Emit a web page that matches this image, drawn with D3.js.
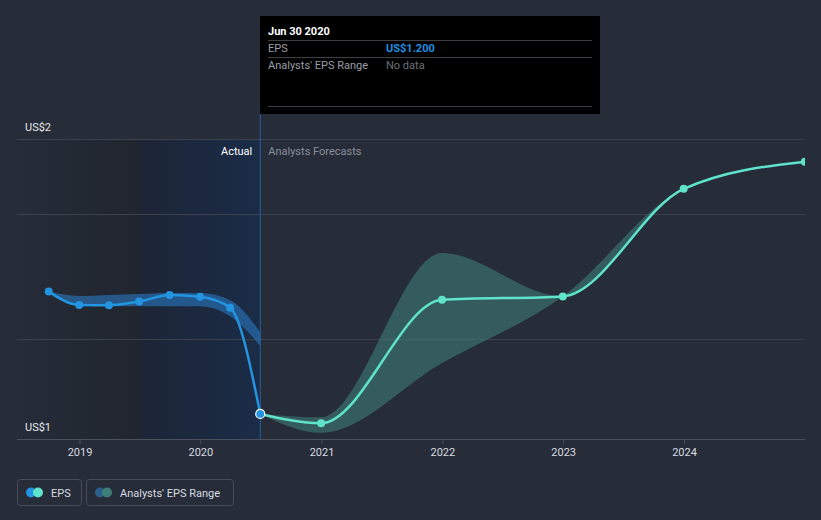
<!DOCTYPE html>
<html>
<head>
<meta charset="utf-8">
<script src="https://cdn.jsdelivr.net/npm/d3@7"></script>
<style>
  html, body { margin: 0; padding: 0; background: #262c38; }
  svg { display: block; font-family: Roboto, "Noto Sans", sans-serif; }
</style>
</head>
<body>
<svg id="chart" width="821" height="520"></svg>
<script>
// ---------- data ----------
const actualDates = ["2018-09-30","2018-12-31","2019-03-31","2019-06-30","2019-09-30","2019-12-31","2020-03-31","2020-06-30"];
const actualEPS   = [1.556, 1.517, 1.516, 1.527, 1.546, 1.541, 1.509, 1.200];
const actualLow   = [1.556, 1.514, 1.514, 1.513, 1.513, 1.513, 1.484, 1.398];
const actualHigh  = [1.556, 1.543, 1.546, 1.549, 1.552, 1.552, 1.531, 1.438];

const forecastDates = ["2020-06-30","2020-12-31","2021-12-31","2022-12-31","2023-12-31","2024-12-31"];
const forecastEPS   = [1.200, 1.173, 1.532, 1.542, 1.855, 1.934];
const rangeDates    = ["2020-06-30","2020-12-31","2021-12-31","2022-12-31","2023-12-31","2024-12-31"];
const rangeLow      = [1.200, 1.145, 1.348, 1.542, 1.855, 1.934];
const rangeHigh     = [1.200, 1.190, 1.668, 1.542, 1.855, 1.934];

const xTickYears   = [2019, 2020, 2021, 2022, 2023, 2024];
const yGridValues  = [1.418, 1.782, 2.0];
const yTickLabels  = [{v: 2.0, t: "US$2"}, {v: 1.127, t: "US$1"}];
const yDomain      = [1.127, 2.0];

const todayDate    = "2020-06-30";
const pastShadeStart = "2019-06-30";

// ---------- setup ----------
const parse = d3.utcParse("%Y-%m-%d");
const svg = d3.select("#chart");
const W = 821, H = 520;
const pLeft = 17, pRight = 805, pTop = 139, pBottom = 439;

const x = d3.scaleUtc()
  .domain([new Date(Date.UTC(2019,0,1)), new Date(Date.UTC(2024,0,1))])
  .range([79.5, 684]);
const y = d3.scaleLinear().domain(yDomain).range([pBottom, pTop]);

svg.append("rect").attr("width", W).attr("height", H).attr("fill", "#262c38");

const defs = svg.append("defs");
defs.append("clipPath").attr("id", "clip").append("rect")
  .attr("x", pLeft).attr("y", 0).attr("width", pRight - pLeft).attr("height", pBottom + 1);
const g1 = defs.append("linearGradient").attr("id", "gradPast").attr("x1", 0).attr("x2", 1);
g1.append("stop").attr("offset", 0).attr("stop-color", "#262c38");
g1.append("stop").attr("offset", 1).attr("stop-color", "#20252e");
const g2 = defs.append("linearGradient").attr("id", "gradRecent").attr("x1", 0).attr("x2", 1);
g2.append("stop").attr("offset", 0).attr("stop-color", "#1d2536");
g2.append("stop").attr("offset", 1).attr("stop-color", "#1a2c47");

const xToday = x(parse(todayDate));
const xShade = x(parse(pastShadeStart));

// shaded past regions
svg.append("rect").attr("x", pLeft).attr("y", pTop).attr("width", xShade - pLeft).attr("height", pBottom - pTop)
  .attr("fill", "url(#gradPast)");
svg.append("rect").attr("x", xShade).attr("y", pTop).attr("width", xToday - xShade).attr("height", pBottom - pTop)
  .attr("fill", "url(#gradRecent)");

// gridlines
svg.selectAll("line.grid").data(yGridValues).join("line")
  .attr("x1", pLeft).attr("x2", pRight)
  .attr("y1", d => Math.round(y(d)) + 0.5).attr("y2", d => Math.round(y(d)) + 0.5)
  .attr("stroke", "#3b414d").attr("stroke-width", 1);

// x axis
const xAxis = d3.axisBottom(x)
  .tickValues(xTickYears.map(yr => new Date(Date.UTC(yr,0,1))))
  .tickFormat(d3.utcFormat("%Y"))
  .tickSize(5).tickPadding(4);
const ax = svg.append("g").attr("transform", `translate(0,${pBottom})`).call(xAxis);
ax.select(".domain").remove();
ax.selectAll(".tick line").attr("stroke", "#4a505c");
ax.selectAll(".tick text").attr("fill", "#d8dbe0").attr("font-size", 11).attr("font-family", "Roboto, sans-serif");
svg.append("line").attr("x1", pLeft).attr("x2", pRight).attr("y1", pBottom + 0.5).attr("y2", pBottom + 0.5)
  .attr("stroke", "#4a505c");

// y labels
svg.selectAll("text.ylab").data(yTickLabels).join("text")
  .attr("x", 25).attr("y", d => y(d.v) - 8)
  .attr("fill", "#e6e8eb").attr("font-size", 11).text(d => d.t);

// today divider
svg.append("line").attr("x1", xToday).attr("x2", xToday).attr("y1", 110).attr("y2", pBottom)
  .attr("stroke", "#2a5d9e").attr("stroke-width", 1);

svg.append("text").attr("x", xToday - 8).attr("y", 155).attr("text-anchor", "end")
  .attr("fill", "#ffffff").attr("font-size", 11).text("Actual");
svg.append("text").attr("x", xToday + 8).attr("y", 155)
  .attr("fill", "#8a8f98").attr("font-size", 11).text("Analysts Forecasts");

const plot = svg.append("g").attr("clip-path", "url(#clip)");

const aData = actualDates.map((d, i) => ({d: parse(d), v: actualEPS[i], lo: actualLow[i], hi: actualHigh[i]}));
const fData = forecastDates.map((d, i) => ({d: parse(d), v: forecastEPS[i]}));
const rData = rangeDates.map((d, i) => ({d: parse(d), lo: rangeLow[i], hi: rangeHigh[i]}));

const area = d3.area().curve(d3.curveMonotoneX).x(d => x(d.d)).y0(d => y(d.lo)).y1(d => y(d.hi));
const line = d3.line().curve(d3.curveMonotoneX).x(d => x(d.d)).y(d => y(d.v));

plot.append("path").datum(aData).attr("d", area).attr("fill", "#2a78c2").attr("fill-opacity", 0.6);
plot.append("path").datum(rData).attr("d", area).attr("fill", "#3f8580").attr("fill-opacity", 0.55);

plot.append("path").datum(fData).attr("d", line).attr("fill", "none")
  .attr("stroke", "#5fe3cb").attr("stroke-width", 2.5);
plot.append("path").datum(aData).attr("d", line).attr("fill", "none")
  .attr("stroke", "#2394e0").attr("stroke-width", 2.5);

plot.selectAll("circle.f").data(fData.slice(1)).join("circle")
  .attr("cx", d => x(d.d)).attr("cy", d => y(d.v)).attr("r", 4).attr("fill", "#5fe3cb");
plot.selectAll("circle.a").data(aData.slice(0, -1)).join("circle")
  .attr("cx", d => x(d.d)).attr("cy", d => y(d.v)).attr("r", 4).attr("fill", "#2394e0");
const last = aData[aData.length - 1];
plot.append("circle").attr("cx", x(last.d)).attr("cy", y(last.v)).attr("r", 4.5)
  .attr("fill", "#2394e0").attr("stroke", "#ffffff").attr("stroke-width", 1.2);

// tooltip
const tt = svg.append("g");
tt.append("rect").attr("x", 260).attr("y", 16).attr("width", 340).attr("height", 98).attr("fill", "#000000");
tt.append("text").attr("x", 268).attr("y", 35).attr("fill", "#ffffff").attr("font-size", 11)
  .attr("font-weight", "bold").text("Jun 30 2020");
[40, 57, 106].forEach(yy => tt.append("line").attr("x1", 268).attr("x2", 592)
  .attr("y1", yy + 0.5).attr("y2", yy + 0.5).attr("stroke", "#3c3f44"));
tt.append("text").attr("x", 268).attr("y", 52).attr("fill", "#9a9ea5").attr("font-size", 11).text("EPS");
tt.append("text").attr("x", 386).attr("y", 52).attr("fill", "#1e8fe0").attr("font-size", 11)
  .attr("font-weight", "bold").text("US$" + d3.format(".3f")(last.v));
tt.append("text").attr("x", 268).attr("y", 69).attr("fill", "#9a9ea5").attr("font-size", 11).text("Analysts' EPS Range");
tt.append("text").attr("x", 386).attr("y", 69).attr("fill", "#6c7078").attr("font-size", 11).text("No data");

// legend
const legend = [
  {x: 17, w: 64, c1: "#2394e0", c2: "#5fe3cb", t: "EPS"},
  {x: 86, w: 147, c1: "#2a5f8c", c2: "#3e7f7a", t: "Analysts' EPS Range"}
];
const lg = svg.selectAll("g.leg").data(legend).join("g").attr("transform", d => `translate(${d.x},479)`);
lg.append("rect").attr("x", 0.5).attr("y", 0.5).attr("width", d => d.w).attr("height", 26).attr("rx", 3)
  .attr("fill", "none").attr("stroke", "#464c58");
lg.append("circle").attr("cx", 14).attr("cy", 13.5).attr("r", 5).attr("fill", d => d.c1);
lg.append("circle").attr("cx", 21).attr("cy", 13.5).attr("r", 5).attr("fill", d => d.c2);
lg.append("text").attr("x", 34).attr("y", 17.5).attr("fill", "#d8dbe0").attr("font-size", 11).text(d => d.t);
</script>
</body>
</html>
